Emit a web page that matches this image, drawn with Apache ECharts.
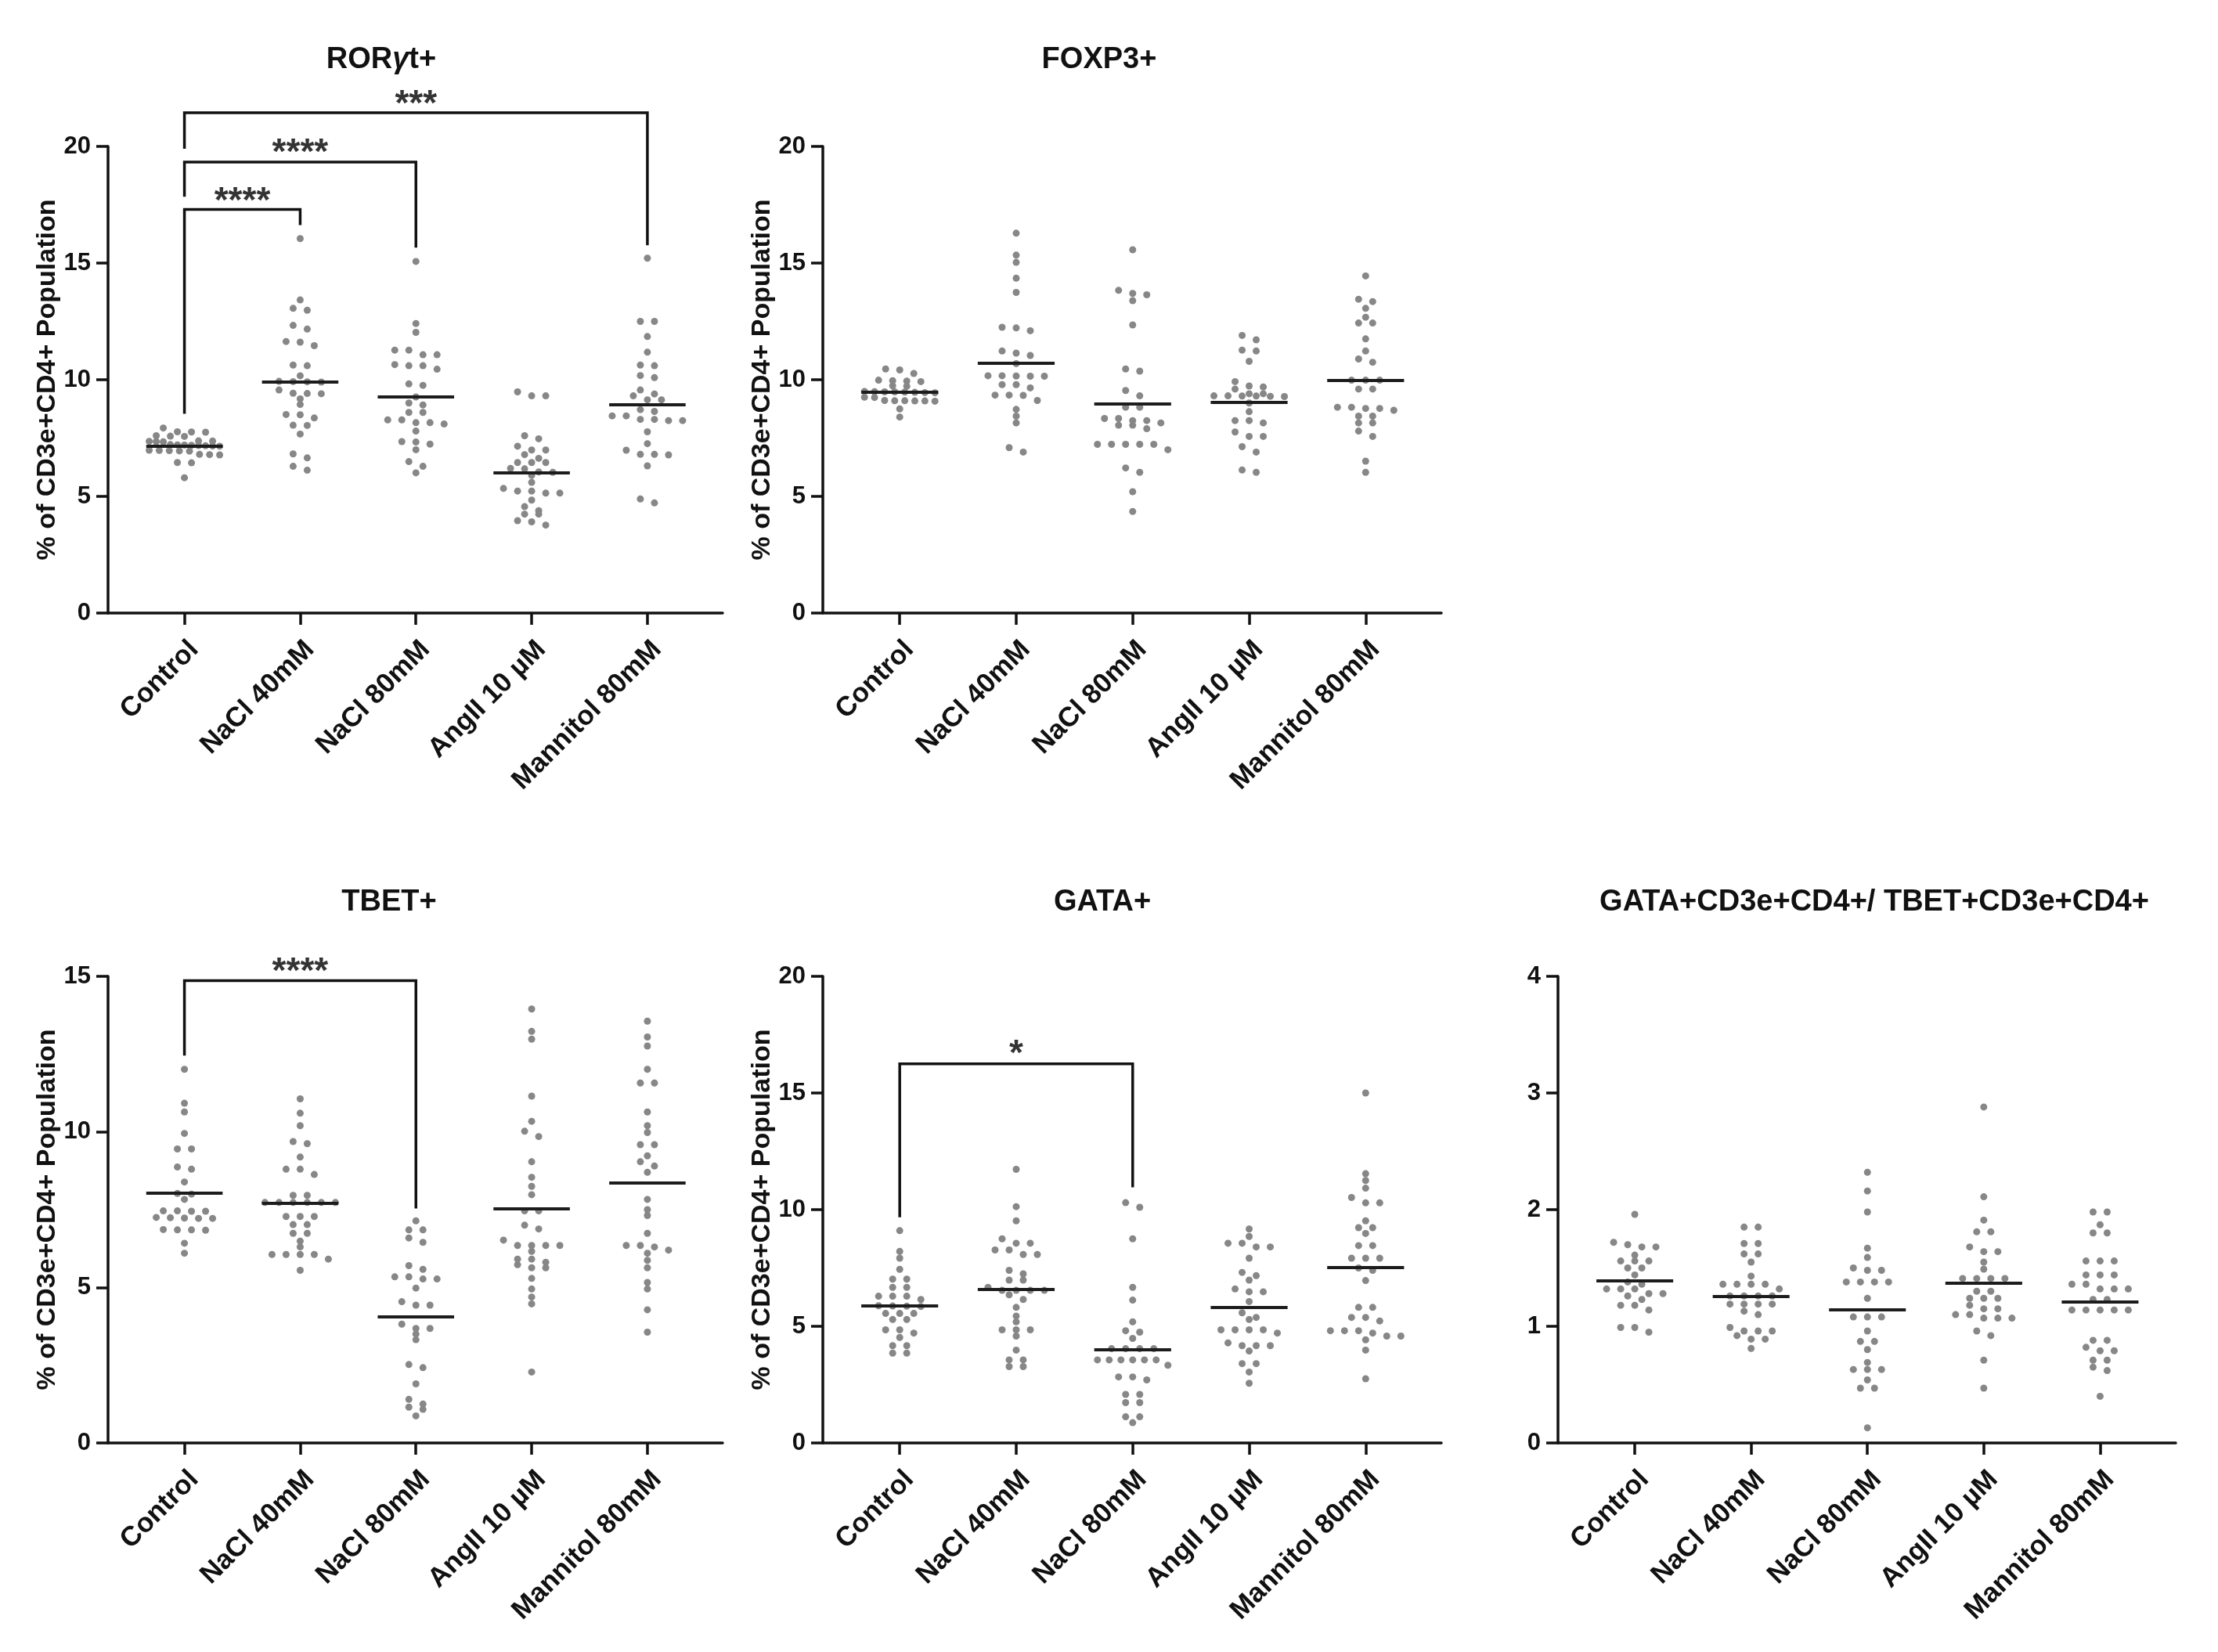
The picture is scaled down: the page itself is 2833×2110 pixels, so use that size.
<!DOCTYPE html>
<html lang="en">
<head>
    <meta charset="utf-8">
    <title>CD3e+CD4+ populations</title>
    <script src="https://cdn.jsdelivr.net/npm/echarts@6/dist/echarts.min.js"></script>
    <style>
        html, body { margin: 0; padding: 0; background: #fff; }
        #main { width: 2833px; height: 2110px; }
    </style>
</head>
<body>
    <div id="main"></div>
    <script>
        var categories = ['Control', 'NaCl 40mM', 'NaCl 80mM', 'AngII 10 µM', 'Mannitol 80mM'];

        // values, one array per group
        var rorValues = [
            [7.93, 7.77, 7.76, 7.75, 7.60, 7.58, 7.57, 7.38, 7.37, 7.36, 7.35, 7.34, 7.22, 7.21, 7.20, 7.19, 7.18, 7.17, 7.16, 7.15, 6.98, 6.97, 6.96, 6.95, 6.94, 6.80, 6.79, 6.78, 6.45, 6.44, 5.80],
            [16.05, 13.42, 13.06, 12.98, 12.33, 12.17, 11.64, 11.61, 11.46, 10.63, 10.60, 10.17, 9.93, 9.92, 9.91, 9.90, 9.56, 9.42, 9.41, 9.40, 9.18, 8.94, 8.51, 8.50, 8.36, 8.05, 8.04, 7.67, 6.82, 6.65, 6.29, 6.12],
            [15.07, 12.41, 12.03, 11.27, 11.27, 11.07, 11.07, 10.65, 10.60, 10.60, 10.45, 9.82, 9.76, 9.26, 9.00, 8.92, 8.60, 8.60, 8.28, 8.28, 8.16, 8.16, 8.10, 7.80, 7.35, 7.33, 7.24, 7.00, 6.49, 6.29, 6.01],
            [9.48, 9.31, 9.31, 7.60, 7.47, 7.15, 6.99, 6.99, 6.79, 6.63, 6.45, 6.45, 6.45, 6.20, 6.18, 6.05, 6.03, 5.90, 5.60, 5.34, 5.23, 5.23, 5.14, 5.14, 4.84, 4.56, 4.39, 4.24, 4.24, 3.96, 3.91, 3.77],
            [15.21, 12.50, 12.50, 11.85, 11.18, 10.63, 10.60, 10.18, 10.09, 9.56, 9.39, 9.31, 9.14, 9.14, 8.72, 8.64, 8.45, 8.45, 8.30, 8.30, 8.25, 8.25, 7.77, 7.26, 6.98, 6.80, 6.80, 6.78, 6.31, 4.89, 4.72]
        ];
        var rorMedians = [7.15, 9.90, 9.26, 6.03, 8.92];

        var foxpValues = [
            [10.46, 10.42, 10.27, 9.98, 9.96, 9.94, 9.92, 9.74, 9.72, 9.50, 9.49, 9.48, 9.48, 9.47, 9.46, 9.45, 9.44, 9.25, 9.24, 9.11, 9.10, 9.10, 9.09, 9.09, 9.08, 8.75, 8.40],
            [16.28, 15.34, 15.03, 14.35, 13.74, 12.25, 12.22, 12.10, 11.23, 11.14, 11.04, 10.69, 10.17, 10.17, 10.16, 10.15, 10.15, 9.79, 9.79, 9.65, 9.34, 9.34, 9.33, 9.11, 8.73, 8.44, 8.15, 7.09, 6.90],
            [15.57, 13.83, 13.70, 13.64, 13.39, 12.35, 10.46, 10.37, 9.54, 9.31, 8.82, 8.82, 8.34, 8.34, 8.25, 8.25, 8.15, 8.05, 8.05, 7.90, 7.23, 7.23, 7.23, 7.23, 7.23, 7.00, 6.22, 6.03, 5.20, 4.35],
            [11.90, 11.71, 11.27, 11.23, 10.79, 9.92, 9.73, 9.69, 9.60, 9.40, 9.40, 9.31, 9.31, 9.30, 9.30, 9.29, 9.28, 9.00, 8.63, 8.25, 8.25, 8.15, 7.76, 7.57, 7.57, 7.13, 6.90, 6.13, 6.03],
            [14.45, 13.45, 13.35, 13.06, 12.68, 12.43, 12.43, 11.75, 11.23, 10.89, 10.75, 9.98, 9.98, 9.98, 9.60, 9.60, 8.82, 8.82, 8.77, 8.77, 8.69, 8.44, 8.44, 8.15, 8.15, 7.80, 7.57, 6.51, 6.03]
        ];
        var foxpMedians = [9.47, 10.70, 8.98, 9.02, 9.97];

        var tbetValues = [
            [12.01, 10.92, 10.64, 9.95, 9.45, 9.45, 8.87, 8.80, 8.39, 8.02, 8.00, 7.83, 7.46, 7.46, 7.45, 7.45, 7.25, 7.24, 7.23, 7.22, 7.22, 6.86, 6.85, 6.85, 6.84, 6.42, 6.10],
            [11.06, 10.60, 10.20, 9.69, 9.62, 9.19, 8.80, 8.80, 8.63, 7.96, 7.96, 7.73, 7.73, 7.73, 7.73, 7.73, 7.73, 7.28, 7.28, 7.28, 7.02, 7.02, 6.74, 6.74, 6.49, 6.30, 6.06, 6.06, 6.06, 6.06, 5.91, 5.55],
            [7.14, 6.85, 6.85, 6.59, 6.45, 5.70, 5.58, 5.34, 5.34, 5.27, 5.27, 4.98, 4.54, 4.43, 4.43, 3.82, 3.68, 3.68, 3.50, 3.32, 2.52, 2.42, 1.90, 1.40, 1.25, 1.15, 1.08, 0.87],
            [13.95, 13.23, 12.98, 11.15, 10.34, 10.02, 9.85, 9.04, 8.54, 8.25, 7.98, 7.46, 7.46, 7.00, 6.88, 6.52, 6.35, 6.35, 6.35, 6.35, 6.16, 5.91, 5.91, 5.81, 5.73, 5.63, 5.63, 5.29, 4.95, 4.69, 4.47, 2.28],
            [13.56, 13.05, 12.76, 12.01, 11.57, 11.57, 10.64, 10.20, 9.98, 9.59, 9.59, 9.23, 9.04, 8.90, 8.70, 7.83, 7.50, 7.31, 6.74, 6.35, 6.35, 6.30, 6.20, 6.10, 5.87, 5.63, 5.16, 4.95, 4.28, 3.56]
        ];
        var tbetMedians = [8.03, 7.72, 4.07, 7.54, 8.37];

        var gataValues = [
            [9.10, 8.21, 7.92, 7.44, 7.02, 7.02, 6.67, 6.67, 6.29, 6.29, 6.29, 6.15, 5.88, 5.87, 5.86, 5.85, 5.55, 5.55, 5.55, 5.29, 5.29, 4.85, 4.85, 4.71, 4.52, 4.17, 4.17, 3.85, 3.85],
            [11.73, 10.13, 9.52, 8.75, 8.56, 8.56, 8.27, 8.27, 8.08, 8.08, 7.40, 7.25, 6.98, 6.98, 6.67, 6.54, 6.54, 6.54, 6.54, 6.35, 6.15, 5.81, 5.44, 5.19, 4.85, 4.85, 4.85, 4.58, 3.98, 3.56, 3.56, 3.27, 3.27],
            [10.30, 10.10, 8.75, 6.67, 6.12, 5.19, 4.81, 4.75, 4.48, 4.04, 4.04, 4.04, 4.04, 3.56, 3.56, 3.56, 3.56, 3.56, 3.56, 3.33, 2.83, 2.83, 2.70, 2.08, 2.08, 1.73, 1.73, 1.12, 1.12, 0.87],
            [9.17, 8.85, 8.56, 8.56, 8.40, 8.40, 7.92, 7.31, 7.17, 6.98, 6.60, 6.48, 6.48, 6.06, 5.58, 5.38, 5.29, 4.85, 4.85, 4.85, 4.85, 4.71, 4.29, 4.17, 4.17, 4.17, 3.94, 3.40, 3.40, 3.04, 2.56],
            [15.00, 11.54, 11.25, 10.92, 10.52, 10.29, 10.29, 9.52, 9.23, 9.23, 8.98, 8.46, 8.46, 7.92, 7.92, 7.92, 7.50, 7.40, 6.96, 5.81, 5.81, 5.38, 5.38, 5.23, 4.81, 4.81, 4.81, 4.71, 4.58, 4.58, 4.42, 3.98, 2.75]
        ];
        var gataMedians = [5.87, 6.58, 4.00, 5.81, 7.52];

        var ratioValues = [
            [1.96, 1.72, 1.70, 1.68, 1.68, 1.61, 1.56, 1.56, 1.56, 1.50, 1.50, 1.44, 1.38, 1.36, 1.32, 1.32, 1.32, 1.28, 1.28, 1.26, 1.23, 1.18, 1.18, 1.14, 0.99, 0.99, 0.95],
            [1.85, 1.85, 1.71, 1.71, 1.62, 1.62, 1.55, 1.43, 1.36, 1.36, 1.36, 1.36, 1.32, 1.26, 1.26, 1.26, 1.26, 1.19, 1.19, 1.19, 1.19, 1.13, 1.10, 0.99, 0.96, 0.96, 0.96, 0.92, 0.89, 0.89, 0.81],
            [2.32, 2.16, 1.98, 1.67, 1.59, 1.50, 1.48, 1.48, 1.38, 1.38, 1.38, 1.38, 1.24, 1.08, 1.08, 1.08, 0.96, 0.87, 0.87, 0.80, 0.69, 0.63, 0.63, 0.63, 0.54, 0.47, 0.47, 0.13],
            [2.88, 2.11, 1.91, 1.81, 1.81, 1.68, 1.64, 1.64, 1.55, 1.49, 1.41, 1.41, 1.41, 1.41, 1.30, 1.30, 1.24, 1.24, 1.24, 1.18, 1.15, 1.15, 1.10, 1.10, 1.07, 1.07, 1.07, 0.96, 0.92, 0.71, 0.47],
            [1.98, 1.98, 1.87, 1.80, 1.80, 1.56, 1.56, 1.56, 1.44, 1.44, 1.44, 1.36, 1.36, 1.32, 1.32, 1.32, 1.23, 1.23, 1.14, 1.14, 1.14, 1.14, 1.14, 0.88, 0.88, 0.82, 0.79, 0.79, 0.71, 0.71, 0.65, 0.62, 0.40]
        ];
        var ratioMedians = [1.39, 1.26, 1.14, 1.37, 1.21];

        // significance brackets: [x, y] corners, and star labels [x, y, text]
        var rorBrackets = [
            [[0, 8.54], [0, 17.30], [1, 17.30], [1, 16.63]],
            [[0, 17.84], [0, 19.33], [2, 19.33], [2, 15.66]],
            [[0, 19.90], [0, 21.44], [4, 21.44], [4, 15.76]]
        ];
        var rorStars = [[0.5, 17.98, '****'], [1, 20.06, '****'], [2, 22.14, '***']];
        var tbetBrackets = [[[0, 12.45], [0, 14.86], [2, 14.86], [2, 7.54]]];
        var tbetStars = [[1, 15.39, '****']];
        var gataBrackets = [[[0, 9.67], [0, 16.25], [2, 16.25], [2, 10.96]]];
        var gataStars = [[1, 17.0, '*']];

        var yName = '% of CD3e+CD4+ Population';
        var font = "'Liberation Sans', Arial, Helvetica, sans-serif";
        var ink = '#111';
        var xMin = -0.66, xMax = 4.65;

        var panels = [
            { title: 'ROR{g|γ}t+', tx: 487, ty: 58, values: rorValues, medians: rorMedians, yMax: 20, yStep: 5,
              grid: { left: 138, top: 187, width: 785, height: 596 }, brackets: rorBrackets, stars: rorStars, yName: yName },
            { title: 'FOXP3+', tx: 1404, ty: 58, values: foxpValues, medians: foxpMedians, yMax: 20, yStep: 5,
              grid: { left: 1051, top: 187, width: 790, height: 596 }, brackets: [], stars: [], yName: yName },
            { title: 'TBET+', tx: 497, ty: 1134, values: tbetValues, medians: tbetMedians, yMax: 15, yStep: 5,
              grid: { left: 138, top: 1247, width: 785, height: 596 }, brackets: tbetBrackets, stars: tbetStars, yName: yName },
            { title: 'GATA+', tx: 1408, ty: 1134, values: gataValues, medians: gataMedians, yMax: 20, yStep: 5,
              grid: { left: 1051, top: 1247, width: 790, height: 596 }, brackets: gataBrackets, stars: gataStars, yName: yName },
            { title: 'GATA+CD3e+CD4+/ TBET+CD3e+CD4+', tx: 2394, ty: 1134, values: ratioValues, medians: ratioMedians, yMax: 4, yStep: 1,
              grid: { left: 1990, top: 1247, width: 789, height: 596 }, brackets: [], stars: [], yName: '' }
        ];

        // Prism-like column scatter: points that fall in the same row are spread sideways
        function swarm(vals, idx, pxY, pxX) {
            var sorted = vals.slice().sort(function (a, b) { return b - a; });
            var out = [];
            var bin = [];
            function flush() {
                var n = bin.length;
                var s = n > 1 ? Math.min(18, 90 / (n - 1)) : 0;
                bin.forEach(function (v, i) {
                    out.push([idx + (i - (n - 1) / 2) * s / pxX, v]);
                });
                bin = [];
            }
            sorted.forEach(function (v) {
                if (bin.length && (bin[0] - v) * pxY > 7) flush();
                bin.push(v);
            });
            flush();
            return out;
        }

        var option = {
            animation: false,
            backgroundColor: '#fff',
            textStyle: { fontFamily: font },
            title: [], grid: [], xAxis: [], yAxis: [], series: []
        };

        panels.forEach(function (p, k) {
            var pxY = p.grid.height / p.yMax;
            var pxX = p.grid.width / (xMax - xMin);

            option.title.push({
                text: p.title, left: p.tx, top: p.ty, textAlign: 'center', padding: 0,
                textStyle: {
                    fontSize: 38, fontWeight: 'bold', color: ink, fontFamily: font,
                    rich: { g: { fontSize: 38, fontWeight: 'bold', fontStyle: 'italic', color: ink, fontFamily: font } }
                }
            });
            option.grid.push(p.grid);
            option.xAxis.push({
                gridIndex: k, type: 'value', min: xMin, max: xMax,
                splitLine: { show: false },
                axisLine: { onZero: false, lineStyle: { color: ink, width: 3.5 } },
                axisTick: { show: true, length: 15, customValues: [0, 1, 2, 3, 4], lineStyle: { color: ink, width: 3.5 } },
                axisLabel: {
                    customValues: [0, 1, 2, 3, 4],
                    formatter: function (v) { return categories[Math.round(v)]; },
                    rotate: 45, align: 'right', verticalAlign: 'top', margin: 29,
                    fontSize: 35, fontWeight: 'bold', color: ink, fontFamily: font
                }
            });
            option.yAxis.push({
                gridIndex: k, type: 'value', min: 0, max: p.yMax, interval: p.yStep,
                splitLine: { show: false },
                axisLine: { show: true, onZero: false, lineStyle: { color: ink, width: 3.5 } },
                axisTick: { show: true, length: 15, lineStyle: { color: ink, width: 3.5 } },
                axisLabel: { margin: 22, fontSize: 31, fontWeight: 'bold', color: ink, fontFamily: font },
                name: p.yName, nameLocation: 'middle', nameGap: 58,
                nameTextStyle: { fontSize: 34, fontWeight: 'bold', color: ink, fontFamily: font }
            });

            var pts = [];
            p.values.forEach(function (vals, i) {
                pts = pts.concat(swarm(vals, i, pxY, pxX));
            });
            option.series.push({
                type: 'scatter', xAxisIndex: k, yAxisIndex: k, data: pts,
                symbolSize: 9, itemStyle: { color: '#878787', opacity: 1 }, z: 2, silent: true
            });
            option.series.push({
                type: 'lines', coordinateSystem: 'cartesian2d', xAxisIndex: k, yAxisIndex: k,
                data: p.medians.map(function (m, i) { return { coords: [[i - 0.33, m], [i + 0.33, m]] }; }),
                lineStyle: { color: '#1c1c1c', width: 4, opacity: 1, curveness: 0 }, z: 3, silent: true, clip: false
            });
            if (p.brackets.length) {
                option.series.push({
                    type: 'lines', coordinateSystem: 'cartesian2d', xAxisIndex: k, yAxisIndex: k, polyline: true,
                    data: p.brackets.map(function (b) { return { coords: b }; }),
                    lineStyle: { color: ink, width: 3.5, opacity: 1 }, z: 4, silent: true, clip: false
                });
                option.series.push({
                    type: 'scatter', xAxisIndex: k, yAxisIndex: k, symbolSize: 1, clip: false, silent: true,
                    itemStyle: { color: 'rgba(0,0,0,0)' },
                    data: p.stars.map(function (s) { return { value: [s[0], s[1]], name: s[2] }; }),
                    label: {
                        show: true, position: 'inside', formatter: '{b}', offset: [0, 11],
                        fontSize: 46, fontWeight: 'bold', color: '#000', fontFamily: font
                    }, z: 5
                });
            }
        });

        var myChart = echarts.init(document.getElementById('main'));
        myChart.setOption(option);
        window.onresize = myChart.resize;
    </script>
</body>
</html>
